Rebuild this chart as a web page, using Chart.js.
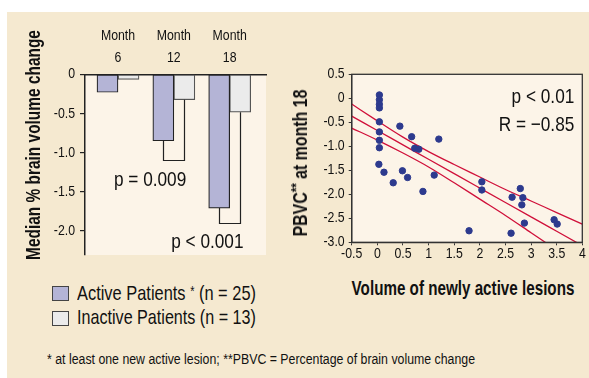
<!DOCTYPE html>
<html>
<head>
<meta charset="utf-8">
<script src="https://cdn.jsdelivr.net/npm/chart.js@4"></script>
<style>
  html,body{margin:0;padding:0;background:#fff;}
  body{width:589px;height:378px;position:relative;overflow:hidden;font-family:"Liberation Sans",Arial,sans-serif;color:#111;}
  #bg{position:absolute;left:7px;top:12px;width:582px;height:366px;background:#f5e9d0;}
  canvas{position:absolute;}
  #c1{left:0;top:0;}
  #c2{left:290px;top:40px;}
  .fit{position:absolute;white-space:nowrap;}
  .ytitle{font-weight:bold;font-size:21px;line-height:24px;}
  .legend{font-size:21px;line-height:24px;transform-origin:0 50%;}
  .box{position:absolute;width:15px;height:13px;border:1px solid #444;}
  .legend sup{font-size:14px;vertical-align:4px;}
  #xtitle2{font-weight:bold;font-size:21px;line-height:24px;}
  #foot{font-size:14px;line-height:16px;transform-origin:0 50%;}
</style>
</head>
<body>
<div id="bg"></div>
<canvas id="c1" width="290" height="270"></canvas>
<canvas id="c2" width="299" height="230"></canvas>
<div class="fit ytitle" data-w="230" data-mode="rot" style="left:33px;top:145px;">Median % brain volume change</div>
<div class="fit ytitle" data-w="147" data-mode="rot" style="left:298px;top:163px;">PBVC<span style="font-size:15px;vertical-align:6px;">**</span> at month 18</div>
<div class="fit" id="xtitle2" data-w="223" data-mode="center" style="left:463px;top:288px;">Volume of newly active lesions</div>
<div class="box" style="left:52px;top:285.5px;background:#b4b4d6;"></div>
<div class="box" style="left:52px;top:311px;background:#ebebeb;"></div>
<div class="fit legend" data-w="179" data-mode="left" style="left:77px;top:279px;">Active Patients <sup>*</sup> (n = 25)</div>
<div class="fit legend" data-w="179" data-mode="left" style="left:77px;top:305px;">Inactive Patients (n = 13)</div>
<div class="fit" id="foot" data-w="428" data-mode="left" style="left:47px;top:351px;">* at least one new active lesion; **PBVC = Percentage of brain volume change</div>
<script>
// ---------- data: bar chart ----------
const months = [6, 12, 18];
const monthLabels = ['6', '12', '18'];
const activeValues = [-0.23, -0.85, -1.71];
const inactiveValues = [-0.065, -0.325, -0.485];
const barYTicks = [0, -0.5, -1.0, -1.5, -2.0];
const bracketMonthIndex = [1, 2];
const bracketValues = [-1.1, -1.9];
const pTexts = ['p = 0.009', 'p < 0.001'];

// ---------- data: scatter ----------
const lesionVolume = [0.04,0.04,0.04,0.04,0.04,0.04,0.04,0.04,0.03,0.13,0.31,0.44,0.49,0.59,0.67,0.73,0.81,0.89,1.11,1.20,1.79,2.04,2.04,2.61,2.63,2.79,2.84,2.82,2.87,3.45,3.51];
const pbvc = [0.07,-0.03,-0.125,-0.20,-0.49,-0.70,-0.875,-1.03,-1.375,-1.54,-1.76,-0.58,-1.51,-1.65,-0.80,-1.04,-1.06,-1.94,-1.60,-0.85,-2.76,-1.74,-1.91,-2.81,-2.06,-1.88,-2.07,-2.22,-2.60,-2.53,-2.62];
const fitX = [-0.5,0,0.5,1,1.5,2,2.5,3,3.5,4];
const fitMid = [-0.37,-0.67,-0.97,-1.27,-1.57,-1.87,-2.17,-2.47,-2.77,-3.07];
const fitUpper = [-0.12,-0.47,-0.81,-1.11,-1.38,-1.64,-1.90,-2.14,-2.38,-2.62];
const fitLower = [-0.62,-0.87,-1.14,-1.43,-1.76,-2.10,-2.44,-2.80,-3.16,-3.52];
const scatterXTicks = [-0.5,0,0.5,1,1.5,2,2.5,3,3.5,4];
const scatterXLabels = ['-0.5','0','0.5','1','1.5','2','2.5','3','3.5','4'];
const scatterYTicks = [0.5,0,-0.5,-1.0,-1.5,-2.0,-2.5,-3.0];
const scatterYLabels = ['0.5','0','-0.5','-1.0','-1.5','-2.0','-2.5','-3.0'];
const statTexts = ['p < 0.01', 'R = \u22120.85'];

// fit HTML text widths (condensed look)
document.querySelectorAll('.fit').forEach(el => {
  const s = (+el.dataset.w) / el.offsetWidth;
  const m = el.dataset.mode;
  if (m === 'rot') el.style.transform = `translate(-50%,-50%) rotate(-90deg) scaleX(${s})`;
  else if (m === 'center') el.style.transform = `translate(-50%,-50%) scaleX(${s})`;
  else el.style.transform = `scaleX(${s})`;
});

const FONT = '"Liberation Sans",Arial,sans-serif';
Chart.defaults.font.family = FONT;
Chart.defaults.color = '#111';

// condensed text rendering for canvas (narrow font look)
const condensePlugin = {
  id: 'condense',
  beforeInit(chart) {
    const ctx = chart.ctx;
    const orig = ctx.fillText.bind(ctx);
    ctx.fillText = function (t, x, y) {
      ctx.save();
      ctx.translate(x, y);
      ctx.scale(0.82, 1);
      orig(t, 0, 0);
      ctx.restore();
    };
  }
};

const panelPlugin = {
  id: 'panel',
  beforeDraw(chart) {
    const a = chart.chartArea, ctx = chart.ctx;
    ctx.save();
    ctx.fillStyle = '#fcf4e8';
    ctx.fillRect(a.left, a.top, a.right - a.left, a.bottom - a.top);
    ctx.restore();
  }
};

const bracketPlugin = {
  id: 'brackets',
  afterDatasetsDraw(chart) {
    const ctx = chart.ctx, ys = chart.scales.y, xs = chart.scales.x;
    const m0 = chart.getDatasetMeta(0), m1 = chart.getDatasetMeta(1);
    ctx.save();
    ctx.strokeStyle = '#222';
    ctx.lineWidth = 1.2;
    bracketMonthIndex.forEach((idx, i) => {
      const a = m0.data[idx], b = m1.data[idx];
      const yb = ys.getPixelForValue(bracketValues[i]);
      ctx.beginPath();
      ctx.moveTo(Math.round(a.x) + 0.5, a.y);
      ctx.lineTo(Math.round(a.x) + 0.5, Math.round(yb) + 0.5);
      ctx.lineTo(Math.round(b.x) + 0.5, Math.round(yb) + 0.5);
      ctx.lineTo(Math.round(b.x) + 0.5, b.y);
      ctx.stroke();
    });
    ctx.fillStyle = '#111';
    ctx.font = '21px ' + FONT;
    ctx.textBaseline = 'middle';
    ctx.textAlign = 'center';
    ctx.fillText(pTexts[0], xs.getPixelForValue(9.45), ys.getPixelForValue(-1.36));
    ctx.fillText(pTexts[1], xs.getPixelForValue(15.6), ys.getPixelForValue(-2.15));
    ctx.restore();
  }
};

new Chart(document.getElementById('c1'), {
  type: 'bar',
  data: {
    datasets: [
      { label: 'Active Patients * (n = 25)', data: months.map((m, i) => ({ x: m, y: activeValues[i] })),
        backgroundColor: '#b4b4d6', borderColor: '#222', borderWidth: 1.2, borderSkipped: false, barThickness: 21 },
      { label: 'Inactive Patients (n = 13)', data: months.map((m, i) => ({ x: m, y: inactiveValues[i] })),
        backgroundColor: '#ebebeb', borderColor: '#555', borderWidth: 1.2, borderSkipped: false, barThickness: 21 }
    ]
  },
  options: {
    responsive: false, animation: false,
    layout: { padding: { left: 0, right: 24, top: 0, bottom: 15 } },
    plugins: { legend: { display: false }, tooltip: { enabled: false } },
    scales: {
      x: {
        type: 'linear', position: 'top', min: 2.455, max: 21.9, offset: false,
        afterBuildTicks: s => { s.ticks = months.map(v => ({ value: v })); },
        afterFit: s => { s.height = 74.3; },
        ticks: { callback: (v) => ['Month', monthLabels[months.indexOf(v)]], font: { size: 15, lineHeight: 1.45 }, padding: 6, maxRotation: 0, autoSkip: false, color: '#111' },
        grid: { display: false, drawTicks: false },
        border: { display: true, color: '#222', width: 1.5 }
      },
      y: {
        min: -2.31, max: 0,
        afterBuildTicks: s => { s.ticks = barYTicks.map(v => ({ value: v })); },
        afterFit: s => { s.width = 85; },
        ticks: { callback: v => (v === 0 ? '0' : v.toFixed(1)), font: { size: 15 }, padding: 5, color: '#111' },
        grid: { drawOnChartArea: false, drawTicks: true, tickLength: 5, color: '#222', lineWidth: 1.2 },
        border: { display: true, color: '#222', width: 1.5 }
      }
    }
  },
  plugins: [condensePlugin, panelPlugin, bracketPlugin]
});

const framePlugin = {
  id: 'frame',
  afterDraw(chart) {
    const a = chart.chartArea, ctx = chart.ctx;
    ctx.save();
    ctx.strokeStyle = '#333';
    ctx.lineWidth = 1.3;
    ctx.strokeRect(a.left, a.top, a.right - a.left, a.bottom - a.top);
    ctx.fillStyle = '#111';
    ctx.font = '21px ' + FONT;
    ctx.textBaseline = 'middle';
    ctx.textAlign = 'right';
    ctx.fillText(statTexts[0], a.right - 8, a.top + 22.5);
    ctx.fillText(statTexts[1], a.right - 8, a.top + 51);
    ctx.restore();
  }
};

const lineStyle = { type: 'line', borderColor: '#d0103a', borderWidth: 1.3, pointRadius: 0, fill: false, tension: 0.4, cubicInterpolationMode: 'monotone' };

new Chart(document.getElementById('c2'), {
  type: 'scatter',
  data: {
    datasets: [
      { label: 'PBVC', data: lesionVolume.map((x, i) => ({ x, y: pbvc[i] })), backgroundColor: '#2d3a8e', borderColor: '#2d3a8e', pointRadius: 3.2, order: 0 },
      Object.assign({ label: 'fit', data: fitX.map((x, i) => ({ x, y: fitMid[i] })), order: 1 }, lineStyle),
      Object.assign({ label: 'upper', data: fitX.map((x, i) => ({ x, y: fitUpper[i] })), order: 1 }, lineStyle),
      Object.assign({ label: 'lower', data: fitX.map((x, i) => ({ x, y: fitLower[i] })), order: 1 }, lineStyle)
    ]
  },
  options: {
    responsive: false, animation: false,
    layout: { padding: { left: 0, right: 6.7, top: 34.3, bottom: 0 } },
    plugins: { legend: { display: false }, tooltip: { enabled: false } },
    scales: {
      x: {
        type: 'linear', min: -0.5, max: 4,
        afterBuildTicks: s => { s.ticks = scatterXTicks.map(v => ({ value: v })); },
        afterFit: s => { s.height = 27.7; },
        ticks: { callback: v => scatterXLabels[scatterXTicks.indexOf(v)], font: { size: 15 }, padding: 0, maxRotation: 0, autoSkip: false, color: '#111' },
        grid: { drawOnChartArea: false, drawTicks: true, tickLength: 3, color: '#333' },
        border: { display: true, color: '#333', width: 1.3 }
      },
      y: {
        min: -3.0, max: 0.5,
        afterBuildTicks: s => { s.ticks = scatterYTicks.map(v => ({ value: v })); },
        afterFit: s => { s.width = 61.7; },
        ticks: { callback: v => scatterYLabels[scatterYTicks.indexOf(v)], font: { size: 15 }, padding: 4, autoSkip: false, color: '#111' },
        grid: { drawOnChartArea: false, drawTicks: true, tickLength: 3, color: '#333' },
        border: { display: true, color: '#333', width: 1.3 }
      }
    }
  },
  plugins: [condensePlugin, panelPlugin, framePlugin]
});
</script>
</body>
</html>
